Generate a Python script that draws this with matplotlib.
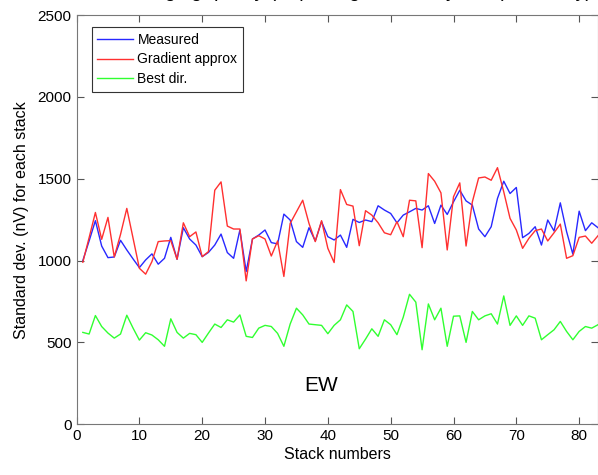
import matplotlib.pyplot as plt

plt.rcParams['font.family'] = ['Liberation Sans', 'DejaVu Sans']

stack = list(range(1, 84))

measured = [1000, 1120, 1244, 1089, 1018, 1022, 1124, 1065, 1010, 957,
            1004, 1041, 978, 1014, 1142, 1008, 1201, 1132, 1095, 1024,
            1050, 1095, 1162, 1049, 1014, 1187, 933, 1132, 1156, 1187,
            1110, 1102, 1284, 1248, 1116, 1081, 1201, 1120, 1238, 1146,
            1126, 1156, 1081, 1252, 1233, 1248, 1238, 1335, 1309, 1288,
            1231, 1278, 1298, 1319, 1309, 1335, 1227, 1339, 1282, 1359,
            1430, 1365, 1339, 1193, 1146, 1207, 1380, 1485, 1410, 1447,
            1140, 1166, 1207, 1095, 1248, 1181, 1353, 1177, 1039, 1302,
            1183, 1231, 1201]

gradient = [990, 1140, 1294, 1130, 1264, 1022, 1160, 1319, 1136, 953,
            917, 994, 1116, 1120, 1122, 1008, 1231, 1146, 1175, 1024,
            1055, 1430, 1481, 1211, 1193, 1193, 876, 1132, 1152, 1132,
            1028, 1120, 903, 1227, 1298, 1369, 1227, 1116, 1244, 1075,
            988, 1434, 1343, 1333, 1091, 1305, 1278, 1231, 1170, 1158,
            1238, 1146, 1369, 1365, 1079, 1532, 1485, 1414, 1065, 1390,
            1475, 1089, 1359, 1505, 1511, 1491, 1568, 1420, 1258, 1187,
            1075, 1136, 1183, 1193, 1120, 1170, 1223, 1014, 1030, 1142,
            1150, 1106, 1152]

best_dir = [561, 551, 664, 597, 557, 526, 551, 666, 587, 514,
            559, 545, 516, 476, 644, 561, 526, 555, 547, 500,
            557, 612, 591, 638, 624, 668, 537, 530, 587, 604,
            597, 555, 476, 612, 709, 668, 612, 608, 604, 553,
            604, 638, 729, 689, 461, 520, 583, 537, 638, 608,
            547, 654, 794, 746, 455, 735, 638, 709, 476, 660,
            662, 500, 689, 638, 662, 675, 612, 784, 604, 662,
            604, 662, 648, 516, 547, 577, 628, 567, 516, 567,
            597, 587, 608]

fig = plt.figure(figsize=(5.98, 4.75), dpi=100)
ax = fig.add_axes([0.128, 0.107, 0.872, 0.861])

ax.plot(stack, measured, color='#2828ff', lw=1.0, label='Measured')
ax.plot(stack, gradient, color='#ff3030', lw=1.0, label='Gradient approx')
ax.plot(stack, best_dir, color='#30ff30', lw=1.0, label='Best dir.')

ax.set_xlim(0, 83)
ax.set_ylim(0, 2500)
ax.set_xticks(range(0, 81, 10))
ax.set_yticks(range(0, 2501, 500))
ax.tick_params(direction='in', top=True, right=True, labelsize=11,
               color='#555555', length=5)
for s in ax.spines.values():
    s.set_color('#777777')

ax.set_xlabel('Stack numbers', fontsize=11.5, labelpad=3)
ax.set_ylabel('Standard dev. (nV) for each stack', fontsize=11.5, labelpad=6)
ax.text(39, 238, 'EW', fontsize=15, ha='center', va='center')

leg = ax.legend(loc='upper left', bbox_to_anchor=(0.029, 0.971), fontsize=10,
                fancybox=False, framealpha=1, edgecolor='#333333',
                handlelength=2.6, handletextpad=0.3, labelspacing=0.42,
                borderpad=0.4, borderaxespad=0)
leg.get_frame().set_linewidth(0.8)

# title sits above the cropped image edge, only its descenders show
fig.text(592 / 598, 1 + 3 / 475,
         'Averaging quality (nV) along the survey line (EW array)',
         fontsize=14, ha='right', va='baseline')

fig.savefig('out.png', dpi=100)
